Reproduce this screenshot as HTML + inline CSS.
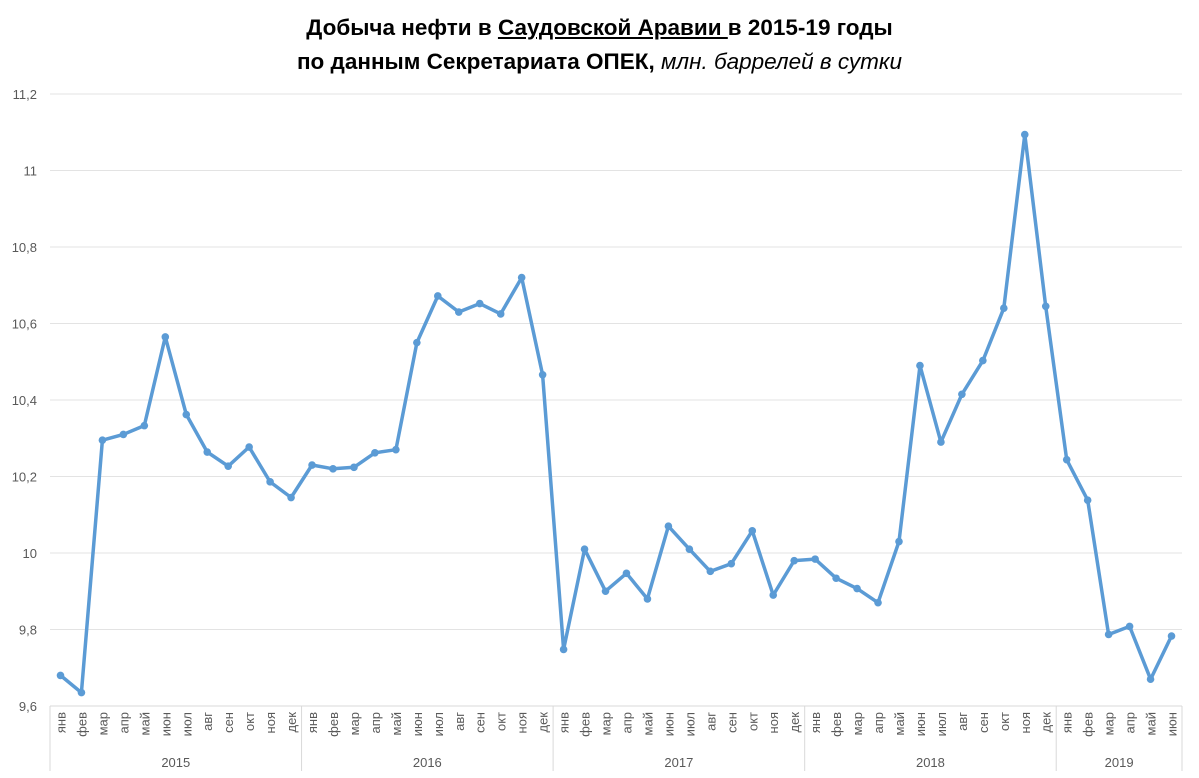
<!DOCTYPE html>
<html><head><meta charset="utf-8">
<style>
html,body{margin:0;padding:0;background:#fff;}
body{width:1199px;height:778px;overflow:hidden;font-family:"Liberation Sans",sans-serif;}
#title{position:absolute;left:0;top:11px;width:1199px;text-align:center;font-weight:bold;font-size:22.5px;line-height:34px;color:#000;}
</style></head><body>
<div id="title">Добыча нефти в <u>Саудовской Аравии </u> в 2015-19 годы<br>по данным Секретариата ОПЕК, <span style="font-weight:normal;font-style:italic">млн. баррелей в сутки</span></div>
<svg id="chart" width="1199" height="778" style="position:absolute;left:0;top:0"></svg>
<script>
const years=["2015","2016","2017","2018","2019"];
const months=["янв","фев","мар","апр","май","июн","июл","авг","сен","окт","ноя","дек"];
const yTicks=[9.6,9.8,10,10.2,10.4,10.6,10.8,11,11.2];
const production=[
9.68,9.635,10.295,10.31,10.333,10.565,10.362,10.264,10.227,10.277,10.186,10.145,
10.23,10.22,10.224,10.262,10.27,10.55,10.672,10.63,10.652,10.625,10.72,10.466,
9.748,10.01,9.9,9.947,9.88,10.07,10.01,9.952,9.972,10.058,9.89,9.98,
9.984,9.934,9.907,9.87,10.03,10.49,10.29,10.415,10.503,10.64,11.094,10.645,
10.244,10.138,9.787,9.808,9.67,9.783];
const NS="http://www.w3.org/2000/svg";
const svg=document.getElementById('chart');
const L=50,R=1182,T=94,B=706,yMin=9.6,yMax=11.2;
const n=production.length, cw=(R-L)/n;
const x=i=>L+cw*(i+0.5);
const y=v=>B-(v-yMin)/(yMax-yMin)*(B-T);
function mk(tag,attrs){const e=document.createElementNS(NS,tag);for(const k in attrs)e.setAttribute(k,attrs[k]);svg.appendChild(e);return e;}
yTicks.forEach(t=>{
 const g=mk('line',{x1:L,x2:R,y1:y(t),y2:y(t),stroke:'#e3e3e3','stroke-width':1});
 
 
 const tx=mk('text',{x:37,y:y(t)+5,'text-anchor':'end','font-size':13,fill:'#595959','font-family':'Liberation Sans, sans-serif'});
 tx.textContent=String(t).replace('.',',');
 
 
});
const ax=mk('line',{x1:L,x2:R,y1:B,y2:B,stroke:'#d9d9d9'});


for(let i=0;i<n;i++){
 const m=months[i%12];
 const tx=mk('text',{transform:`translate(${x(i)+5},${B+6}) rotate(-90)`,'text-anchor':'end','font-size':13,fill:'#595959','font-family':'Liberation Sans, sans-serif'});
 tx.textContent=m;
 
 
}
let start=0;
years.forEach((yr,k)=>{
 const cnt=Math.min(12,n-start);
 const x0=L+cw*start, x1=L+cw*(start+cnt);
 const s=mk('line',{x1:x0,x2:x0,y1:B,y2:771,stroke:'#d9d9d9'});
 
 
 const tx=mk('text',{x:(x0+x1)/2,y:767,'text-anchor':'middle','font-size':13,fill:'#595959','font-family':'Liberation Sans, sans-serif'});
 tx.textContent=yr;
 
 
 start+=cnt;
});
const s2=mk('line',{x1:R,x2:R,y1:B,y2:771,stroke:'#d9d9d9'});


const pts=production.map((v,i)=>x(i).toFixed(1)+','+y(v).toFixed(1)).join(' ');
const pl=mk('polyline',{points:pts,fill:'none',stroke:'#5b9bd5','stroke-width':3.5,'stroke-linejoin':'round'});


production.forEach((v,i)=>{
 const c=mk('circle',{cx:x(i),cy:y(v),r:3.8,fill:'#5b9bd5'});
 
 
});
</script>
</body></html>
